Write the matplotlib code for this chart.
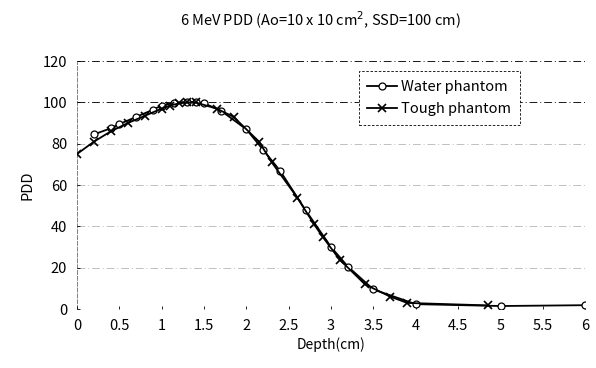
import numpy as np
import matplotlib
matplotlib.use("Agg")
import matplotlib.pyplot as plt

plt.rcParams['font.family'] = ['Noto Sans CJK JP', 'DejaVu Sans']

# Water phantom (open circles)
water_depth = [0.2, 0.4, 0.5, 0.7, 0.9, 1.0, 1.15, 1.3, 1.4, 1.5, 1.7, 2.0, 2.2, 2.4, 2.7, 3.0, 3.2, 3.5, 4.0, 5.0, 6.0]
water_pdd = [84.5, 87.5, 89.5, 93.0, 96.5, 98.5, 99.8, 100.3, 100.2, 99.6, 96.0, 87.0, 77.0, 66.8, 47.8, 30.0, 20.5, 9.5, 2.4, 1.5, 1.9]

# Tough phantom (x markers)
tough_depth = [0.0, 0.2, 0.4, 0.6, 0.8, 1.0, 1.1, 1.2, 1.3, 1.4, 1.65, 1.85, 2.15, 2.3, 2.6, 2.8, 2.9, 3.1, 3.4, 3.7, 3.9, 4.85]
tough_pdd = [75.0, 81.0, 86.0, 90.0, 93.5, 97.0, 98.5, 99.5, 100.0, 100.0, 97.0, 93.0, 81.0, 71.0, 54.0, 41.0, 35.0, 24.0, 12.0, 6.0, 3.0, 1.8]

x_ticks = [0, 0.5, 1, 1.5, 2, 2.5, 3, 3.5, 4, 4.5, 5, 5.5, 6]
x_labels = ["0", "0.5", "1", "1.5", "2", "2.5", "3", "3.5", "4", "4.5", "5", "5.5", "6"]
y_ticks = [0, 20, 40, 60, 80, 100, 120]

fig = plt.figure(figsize=(5.96, 3.68), dpi=100)
ax = fig.add_axes([0.129, 0.160, 0.853, 0.674])

# faded dash-dot grid, like the scanned original
for yv in y_ticks[1:]:
    a = 0.9 if yv in (100, 120) else 0.25
    ax.axhline(yv, color="black", lw=0.7, ls=(0, (8, 3, 1, 3)), alpha=a, zorder=1)

ax.plot(water_depth, water_pdd, color="black", lw=1.3, marker="o", ms=5,
        mfc="white", mec="black", mew=0.9, label="Water phantom", zorder=3)
ax.plot(tough_depth, tough_pdd, color="black", lw=1.3, marker="x", ms=6,
        mew=1.2, label="Tough phantom", zorder=4)

ax.set_xlim(0, 6)
ax.set_ylim(0, 120)
ax.set_xticks(x_ticks)
ax.set_xticklabels(x_labels)
ax.set_yticks(y_ticks)
ax.tick_params(labelsize=10.5, length=2, width=0.6, direction="in", pad=7)

for s in ("top", "right"):
    ax.spines[s].set_visible(False)
ax.spines["left"].set_linestyle((0, (4, 2)))
ax.spines["left"].set_alpha(0.5)
ax.spines["left"].set_linewidth(0.7)
ax.spines["bottom"].set_visible(False)

ax.set_xlabel("Depth(cm)", fontsize=10, labelpad=3)
ax.set_ylabel("PDD", fontsize=10.5, labelpad=6)
fig.suptitle("6 MeV PDD (Ao=10 x 10 cm$^{2}$, SSD=100 cm)", fontsize=10.5, x=0.537, y=0.975)

leg = ax.legend(loc="upper left", bbox_to_anchor=(0.54, 0.99), fontsize=10.5,
                frameon=True, fancybox=False, handlelength=2.0,
                borderpad=0.6, labelspacing=0.6, handletextpad=0.3)
leg.get_frame().set_edgecolor("black")
leg.get_frame().set_linestyle((0, (3, 2)))
leg.get_frame().set_linewidth(0.6)
leg.get_frame().set_alpha(1)

fig.savefig("out.png", dpi=100)
